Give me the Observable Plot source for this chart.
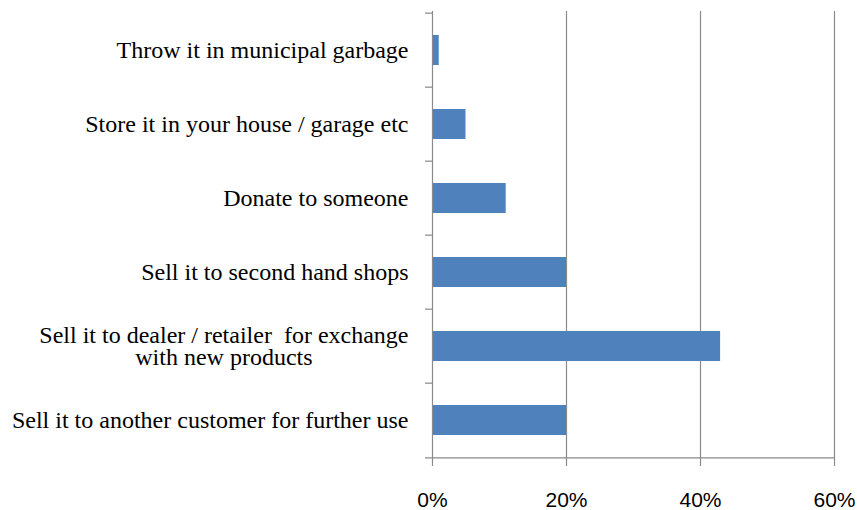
<!DOCTYPE html>
<html>
<head>
<meta charset="utf-8">
<script src="https://cdn.jsdelivr.net/npm/d3@7"></script>
<script src="https://cdn.jsdelivr.net/npm/@observablehq/plot@0.6"></script>
<style>
  html, body { margin: 0; padding: 0; background: #fff; }
  #chart svg { display: block; }
</style>
</head>
<body>
<div id="chart"></div>
<script>
const categories = [
  "Throw it in municipal garbage",
  "Store it in your house / garage etc",
  "Donate to someone",
  "Sell it to second hand shops",
  "Sell it to dealer / retailer  for exchange\nwith new products",
  "Sell it to another customer for further use"
];
const values = [1, 5, 11, 20, 43, 20];
const xTicks = [0, 20, 40, 60];
const gridTicks = [20, 40, 60];

const data = categories.map((c, i) => ({category: c, value: values[i]}));

const W = 857, H = 510;
const mTop = 11, mBottom = 51, mLeft = 432, mRight = 23;
const step = (H - mTop - mBottom) / categories.length;
const axisColor = "#8a8a8a";

const chart = Plot.plot({
  width: W,
  height: H,
  marginTop: mTop,
  marginBottom: mBottom,
  marginLeft: mLeft,
  marginRight: mRight,
  style: {background: "#fff", color: "#000"},
  x: {domain: [0, 60]},
  y: {domain: categories, paddingInner: 0.6, paddingOuter: 0.3},
  marks: [
    Plot.gridX(gridTicks, {stroke: axisColor, strokeOpacity: 1, strokeWidth: 1.2}),
    Plot.barX(data, {y: "category", x: "value", fill: "#4F81BD"}),
    Plot.ruleX([0], {stroke: axisColor, strokeWidth: 1.2}),
    // category boundary ticks on the y axis
    Plot.ruleY(categories, {y: d => d, x1: 0, x2: 0, insetLeft: -7, dy: -step / 2, stroke: axisColor, strokeWidth: 1.2}),
    // bottom axis line
    Plot.ruleY([categories[categories.length - 1]], {y: d => d, x1: 0, x2: 60, insetLeft: -7, dy: step / 2, stroke: axisColor, strokeWidth: 1.2}),
    Plot.axisX({
      ticks: xTicks,
      tickSize: 7,
      tickPadding: 26,
      stroke: axisColor,
      strokeWidth: 1.2,
      tickFormat: d => d + "%",
      fontSize: 21,
      fontFamily: "Liberation Sans, Arial, sans-serif",
      fill: "#000",
      label: null
    }),
    Plot.axisY({
      tickSize: 0,
      tickPadding: 24,
      fontSize: 24,
      fontFamily: "Liberation Serif, Times New Roman, serif",
      fill: "#000",
      lineHeight: 0.92,
      label: null
    })
  ]
});

document.getElementById("chart").appendChild(chart);

// center-align the wrapped (multi-line) category label like the original
chart.querySelectorAll('g[aria-label="y-axis tick label"] text').forEach(t => {
  if (t.querySelectorAll("tspan").length > 1) {
    const w = t.getBBox().width;
    t.setAttribute("text-anchor", "middle");
    const tr = t.getAttribute("transform") || "";
    t.setAttribute("transform", tr + ` translate(${-w / 2},0)`);
  }
});
</script>
</body>
</html>
